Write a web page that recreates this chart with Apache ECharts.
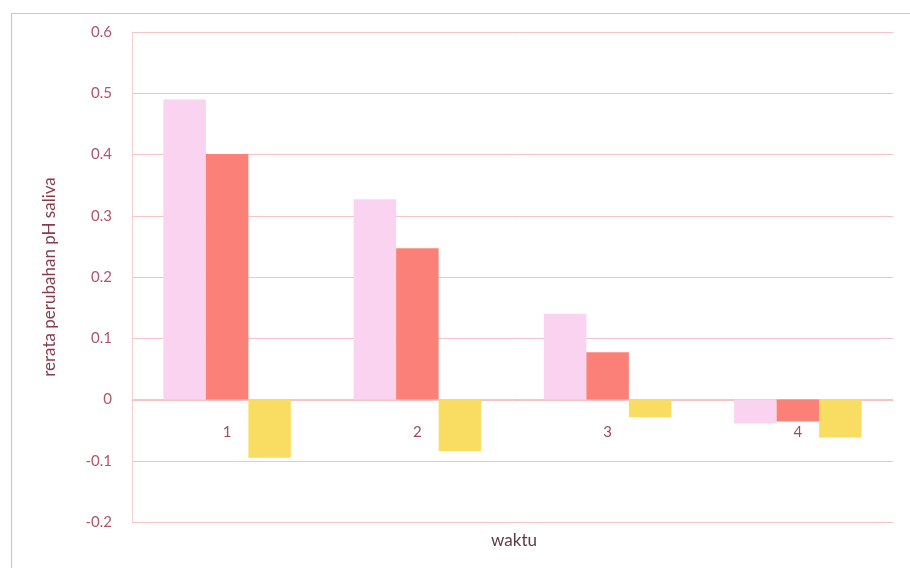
<!DOCTYPE html>
<html><head><meta charset="utf-8">
<script src="https://cdn.jsdelivr.net/npm/echarts@6/dist/echarts.min.js"></script>
<style>html,body{margin:0;padding:0;background:#fff}#c{width:910px;height:568px}</style>
</head><body><div id="c"></div>
<script>
const categories = ['1','2','3','4'];
const seriesA = [0.49, 0.327, 0.14, -0.039];
const seriesB = [0.401, 0.247, 0.077, -0.036];
const seriesC = [-0.095, -0.084, -0.029, -0.062];
const yTicks = {min: -0.2, max: 0.6, interval: 0.1};

const chart = echarts.init(document.getElementById('c'), null, {renderer:'canvas'});
const font = 'Lato, "Open Sans", sans-serif';
chart.setOption({
  animation: false,
  backgroundColor: '#fff',
  grid: {left: 132, right: 17, top: 32, bottom: 46},
  graphic: [
    {type:'rect', left: 9, top: 11, shape:{width: 920, height: 580}, style:{fill:'none', stroke:'#f2b8b8', lineWidth:1.2}, silent:true},
    {type:'text', x: 514, y: 541, style:{text:'waktu', font:'17px ' + font, fill:'#5a3a44', align:'center', verticalAlign:'middle'}}
  ],
  xAxis: {
    type: 'category', data: categories, position: 'bottom', offset: -122,
    axisLine: {onZero: false, lineStyle: {color: '#f4c4c4', width: 1}},
    axisTick: {show: false},
    axisLabel: {margin: 25, fontSize: 15, fontFamily: font, color: '#a04a5a'},
    splitLine: {show: false}
  },
  yAxis: {
    type: 'value', min: yTicks.min, max: yTicks.max, interval: yTicks.interval,
    name: 'rerata perubahan pH saliva', nameLocation: 'middle', nameGap: 74, nameRotate: 90,
    nameTextStyle: {fontSize: 17, fontFamily: font, color: '#8a3a4a'},
    axisLine: {show: true, lineStyle: {color: '#f6d0d0'}},
    axisTick: {show: false},
    axisLabel: {margin: 20, fontSize: 15, fontFamily: font, color: '#b0566a',
      formatter: v => (Math.round(v*10)/10).toString()},
    splitLine: {lineStyle: {color: '#f4c4c8', width: 1}}
  },
  series: [
    {type:'bar', data: seriesA, itemStyle:{color:'#f9d3f0'}, barGap: '0%', barCategoryGap: '33%'},
    {type:'bar', data: seriesB, itemStyle:{color:'#fb8078'}, barGap: '0%', barCategoryGap: '33%'},
    {type:'bar', data: seriesC, itemStyle:{color:'#f9dd63'}, barGap: '0%', barCategoryGap: '33%'}
  ]
});
</script></body></html>
